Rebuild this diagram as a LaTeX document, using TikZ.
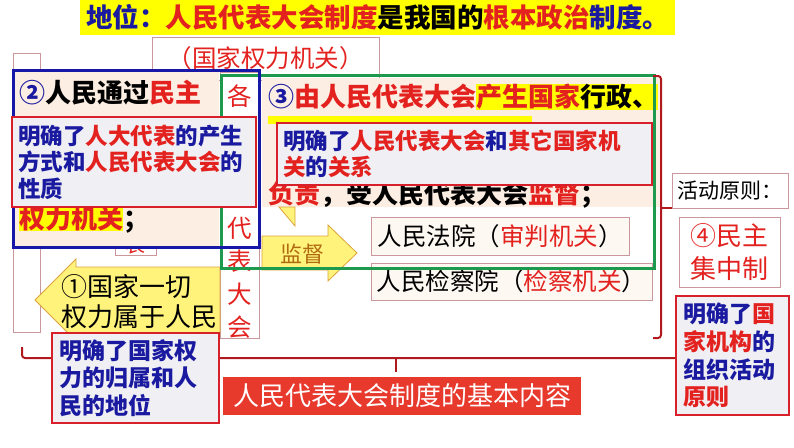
\documentclass[tikz,border=0pt]{standalone}
\usepackage{fontspec}
\newfontfamily\cjk{Noto Sans CJK SC}
\definecolor{tblue}{HTML}{1A1AA0}
\definecolor{tred}{HTML}{E3221F}
\definecolor{dred}{HTML}{B01A1E}
\definecolor{pinkb}{HTML}{C9979C}
\definecolor{peach}{HTML}{FDEEE3}
\definecolor{notegray}{HTML}{EFEFF4}
\definecolor{notered}{HTML}{D8202A}
\definecolor{hly}{HTML}{FFFF00}
\definecolor{arrowfill}{HTML}{FFF37C}
\definecolor{arrowline}{HTML}{DCA23C}
\definecolor{greenb}{HTML}{1E9A4E}
\definecolor{blueb}{HTML}{1818A8}
\definecolor{banner}{HTML}{E8392D}
\definecolor{jdbrown}{HTML}{B06A10}
\definecolor{cream}{HTML}{FDF8F2}
\newcommand\rtx[1]{\textcolor{tred}{#1}}
\newcommand\btx[1]{\textcolor{tblue}{#1}}
\newcommand\hlt[1]{{\setlength{\fboxsep}{0pt}\colorbox{hly}{#1}}}
\begin{document}
\begin{tikzpicture}
	[x=1pt, y=-1pt,
	thinbox/.style={draw=pinkb, line width=0.8pt, fill=white, inner sep=0pt},
	notebox/.style={draw=notered, line width=1.8pt, fill=notegray, inner ysep=0pt, align=left, text=tblue,
		font=\cjk\bfseries\fontsize{22.5}{26.5}\selectfont},
	bigtext/.style={inner sep=0pt, anchor=west, align=left, font=\cjk\bfseries\fontsize{26}{32}\selectfont},
	plaintext/.style={inner sep=0pt, font=\cjk\fontsize{24.5}{30}\selectfont},
	blockarrow/.style={draw=arrowline, line width=0.8pt, fill=arrowfill},
	brace/.style={draw=dred, line width=2pt, rounded corners=3pt}]

	\useasboundingbox (0,0) rectangle (794,447);

	% Draw title
	\node[fill=hly, minimum width=595, minimum height=35, inner sep=0pt,
		font=\cjk\bfseries\fontsize{26.5}{30}\selectfont] (title) at (377.5,17.5)
		{\btx{地位：}\rtx{人民代表大会制度}是我国的\rtx{根本政治}\btx{制度。}};

	% Draw background boxes
	\node[thinbox, plaintext, text=tred, minimum width=227, minimum height=43] (organ) at (265.5,58.5) {（国家权力机关）};
	\draw[thinbox] (13,53) rectangle (40,332);
	\node[thinbox, minimum width=39, minimum height=266] (column) at (239.5,205) {};
	\foreach \c/\k in {各/0,代/4,表/5,大/6,会/7}
		\node[plaintext, text=tred] (col\k) at (239.5,{96+33*\k}) {\c};
	\node[thinbox, minimum width=41, minimum height=45] (small) at (135.5,232.5) {};
	\node[plaintext, text=tred, font=\cjk\fontsize{20}{24}\selectfont] (smallchar) at (135.5,245) {表};

	% Draw left arrow
	\draw[blockarrow] (220,267) -- (76,267) -- (76,259) -- (35,300) -- (76,341) -- (76,333) -- (220,333) -- cycle;
	\node[inner sep=0pt, anchor=west, align=left, font=\cjk\fontsize{26}{30}\selectfont] (allpower) at (61,302)
		{①国家一切\\权力属于人民};

	% Create text blocks
	\fill[peach] (13,70) rectangle (219,247);
	\node[bigtext] (elect1) at (19,93) {\btx{②}人民通过\rtx{民主}};
	\node[bigtext] (elect3) at (19,220) {\hlt{\rtx{权力机关}}；};

	\fill[peach] (262,78) rectangle (660,207);
	\node[bigtext] (organs1) at (268,97) {\btx{③}\rtx{由人民代表大会}\hlt{\rtx{产生国家}行政、}};
	\fill[hly] (268,116) rectangle (532,124);
	\node[bigtext] (organs4) at (268,195) {\rtx{负责}，受人民代表大会\rtx{监督}；};
	\filldraw[blockarrow] (279,207) -- (295,207) -- (295,226) -- cycle;

	% Draw supervision arrow and courts
	\draw[blockarrow] (262,236) -- (328,236) -- (328,225) -- (357,253) -- (328,281) -- (328,270) -- (262,270) -- cycle;
	\node[plaintext, text=jdbrown, font=\cjk\fontsize{22}{26}\selectfont] (supervise) at (302,254) {监督};
	\node[thinbox, plaintext, fill=cream, minimum width=258, minimum height=38] (court) at (500,236)
		{人民法院（\rtx{审判机关}）};
	\node[thinbox, plaintext, fill=cream, minimum width=281, minimum height=37] (procur) at (511.5,281.5)
		{人民检察院（\rtx{检察机关}）};

	% Draw frames
	\draw[greenb, line width=3pt] (221,75) rectangle (654,268);
	\draw[blueb, line width=3pt] (13,70) rectangle (259,247);

	% Draw braces
	\draw[brace] (653,76) -- (661,76) -- (661,338) -- (653,338);
	\draw[brace] (661,208) -- (672,208);
	\draw[brace] (22,347) -- (22,358) -- (676,358);
	\draw[brace] (396,358) -- (396,372);

	% Create notes
	\node[notebox, inner xsep=6pt, text width=232, minimum height=90] (noteA) at (134,162)
		{明确了\rtx{人大代表}的产生\\方式和\rtx{人民代表大会}的\\性质};
	\node[notebox, inner xsep=6pt, text width=363, minimum height=62] (noteB) at (464.5,154)
		{明确了\rtx{人民代表大会}和\rtx{其它国家机}\\\rtx{关}的\rtx{关系}};
	\node[notebox, inner xsep=7pt, text width=153, minimum height=90,
		font=\cjk\bfseries\fontsize{23}{27.5}\selectfont] (noteC) at (135.5,378)
		{明确了国家权\\力的归属和人\\民的地位};
	\node[notebox, inner xsep=7pt, text width=99, minimum height=119,
		font=\cjk\bfseries\fontsize{23}{27.7}\selectfont] (noteD) at (732.5,355.5)
		{明确了\rtx{国}\\\rtx{家机构}的\\组织活动\\\rtx{原则}};

	% Draw banner and principle boxes
	\node[fill=banner, minimum width=358, minimum height=38, inner sep=0pt, text=white,
		font=\cjk\fontsize{26}{30}\selectfont] (content) at (402,396) {人民代表大会制度的基本内容};
	\node[thinbox, minimum width=116, minimum height=35, font=\cjk\fontsize{21}{25}\selectfont] (principle) at (730,190.5)
		{活动原则：};
	\node[thinbox, minimum width=101, minimum height=70, align=center, text=tred,
		font=\cjk\fontsize{26}{33}\selectfont] (centralism) at (729.5,252) {④民主\\集中制};

\end{tikzpicture}
\end{document}
